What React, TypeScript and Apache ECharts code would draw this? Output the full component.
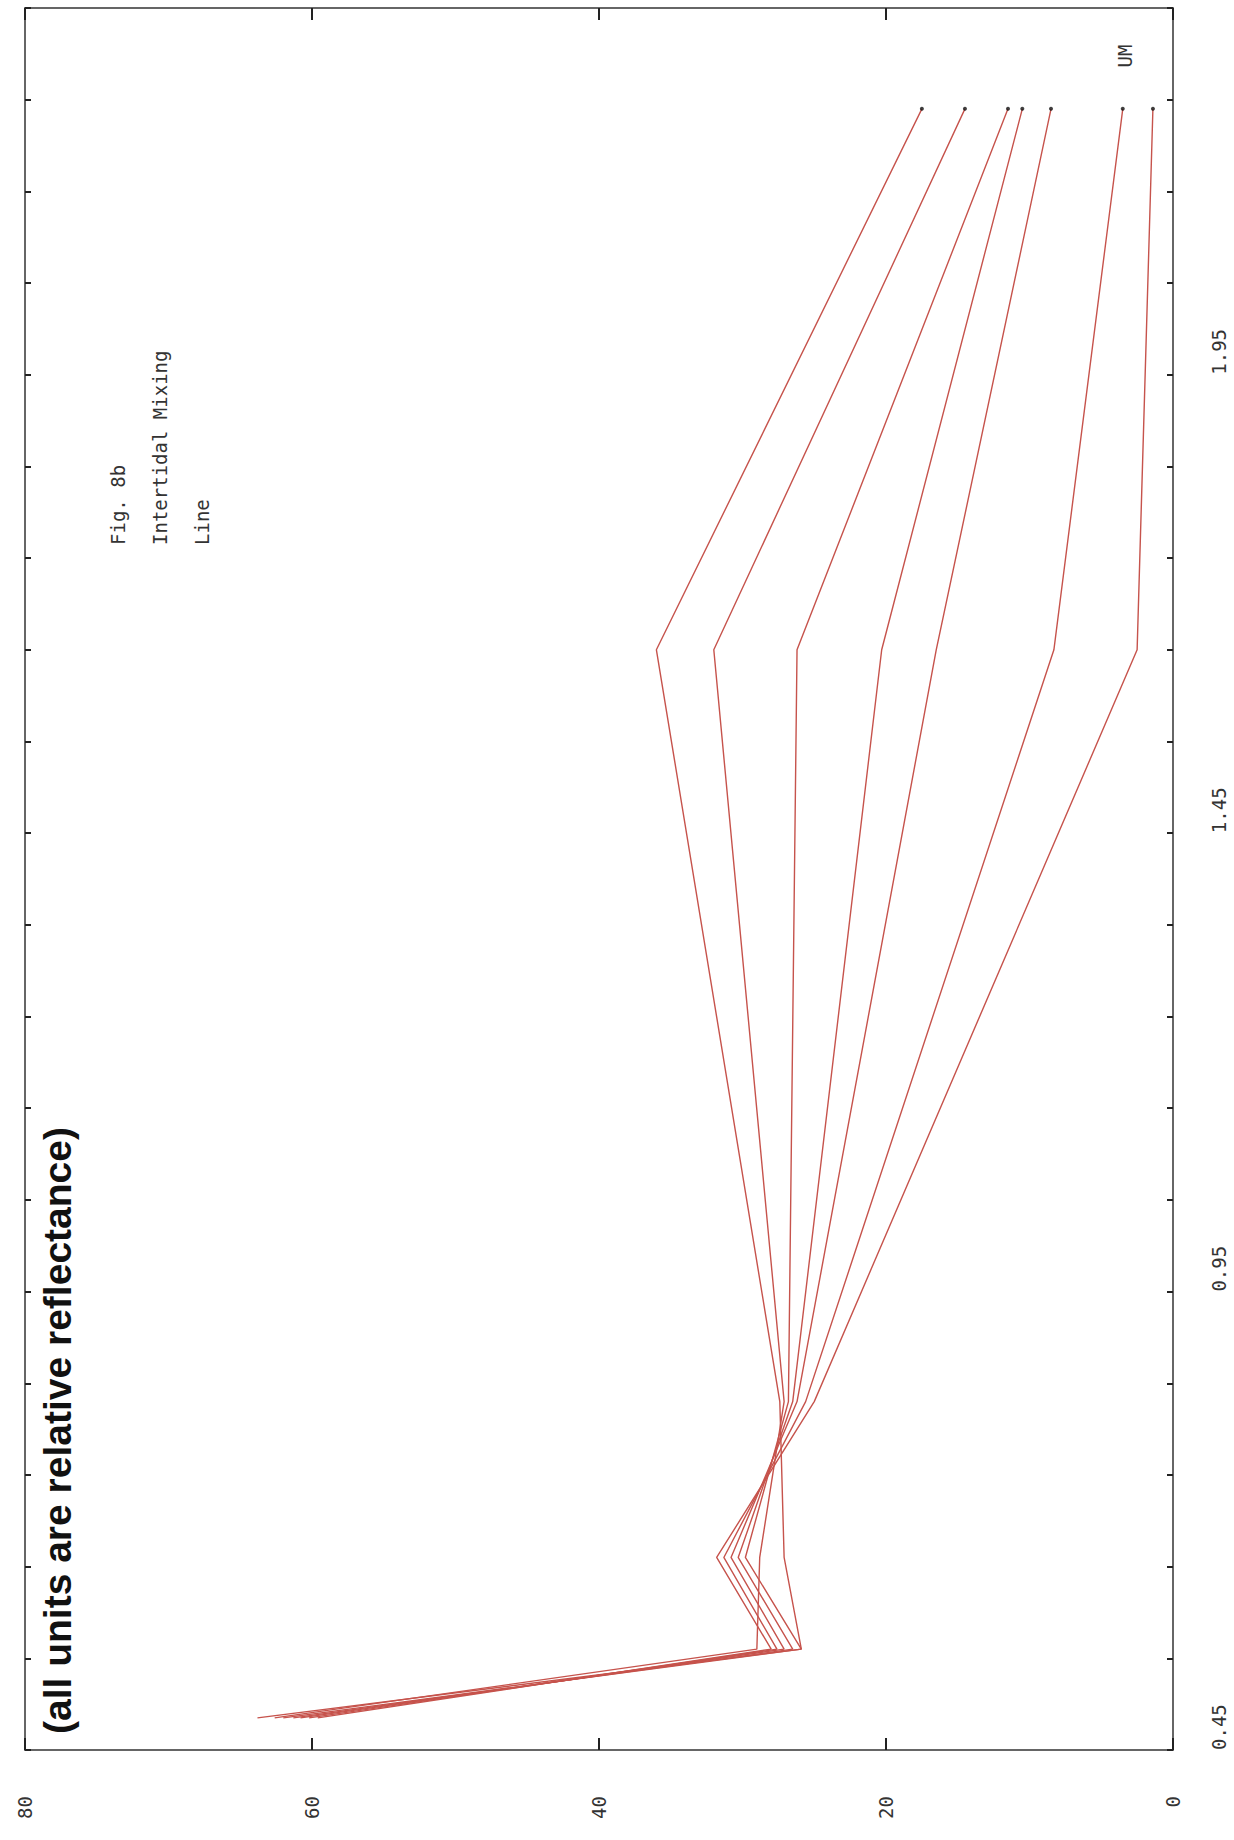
import React, { useEffect, useRef } from "react";
import * as echarts from "echarts";

// wavelength (µm) of each sampled band
const wavelengths = [0.485, 0.56, 0.66, 0.83, 1.65, 2.24];

// relative reflectance of each mixing line, one value per band
const line1 = [63.8, 25.9, 27.1, 27.4, 36.0, 17.5];
const line2 = [62.6, 29.0, 28.8, 27.1, 32.0, 14.5];
const line3 = [62.0, 25.9, 29.8, 26.8, 26.2, 11.5];
const line4 = [61.3, 26.5, 30.3, 26.5, 20.3, 10.5];
const line5 = [60.8, 27.1, 30.8, 26.2, 16.5, 8.5];
const line6 = [60.2, 27.6, 31.3, 25.6, 8.3, 3.5];
const line7 = [59.6, 28.0, 31.8, 25.0, 2.5, 1.4];
const lines = [line1, line2, line3, line4, line5, line6, line7];

// axis ticks
const wavelengthTicks = [
  0.45, 0.55, 0.65, 0.75, 0.85, 0.95, 1.05, 1.15, 1.25, 1.35, 1.45, 1.55, 1.65,
  1.75, 1.85, 1.95, 2.05, 2.15, 2.25, 2.35,
];
const wavelengthLabels = [0.45, 0.95, 1.45, 1.95];
const reflectanceMin = 0;
const reflectanceMax = 80;
const reflectanceStep = 20;

const titleLines = ["Fig. 8b", "Intertidal Mixing", "Line"];
const unitLabel = "UM";
const note = "(all units are relative reflectance)";

export default function App() {
  const ref = useRef<HTMLDivElement>(null);
  useEffect(() => {
    document.body.style.margin = "0";
    const chart = echarts.init(ref.current as HTMLDivElement, null, { renderer: "svg" });
    const mono = "'DejaVu Sans Mono', 'Liberation Mono', monospace";
    const axisColor = "#333";
    const lineColor = "#c6534c";

    const xBase = {
      type: "value",
      inverse: true,
      min: reflectanceMin,
      max: reflectanceMax,
      interval: reflectanceStep,
      splitLine: { show: false },
      axisLine: { show: true, onZero: false, lineStyle: { color: axisColor, width: 1.5 } },
      axisTick: { show: true, inside: true, length: 12, lineStyle: { color: "#222", width: 2 } },
    };
    const yBase = {
      type: "value",
      min: 0.45,
      max: 2.35,
      splitLine: { show: false },
      axisLine: { show: true, onZero: false, lineStyle: { color: axisColor, width: 1.5 } },
      axisTick: {
        show: true,
        inside: true,
        length: 6,
        customValues: wavelengthTicks,
        lineStyle: { color: "#222", width: 2 },
      },
    };

    const option: any = {
      animation: false,
      backgroundColor: "#ffffff",
      grid: { left: 25, right: 61, top: 8, bottom: 90, containLabel: false },
      xAxis: [
        {
          ...xBase,
          position: "bottom",
          axisLabel: {
            rotate: 90,
            margin: 46,
            fontFamily: mono,
            fontSize: 19,
            color: axisColor,
          },
        },
        {
          ...xBase,
          position: "top",
          axisLabel: { show: false },
        },
      ],
      yAxis: [
        {
          ...yBase,
          position: "right",
          axisLabel: {
            customValues: wavelengthLabels,
            formatter: (v: number) => v.toFixed(2),
            rotate: 90,
            align: "left",
            verticalAlign: "top",
            margin: 36,
            fontFamily: mono,
            fontSize: 19,
            color: axisColor,
          },
        },
        {
          ...yBase,
          position: "left",
          axisLabel: { show: false },
        },
      ],
      series: [
        ...lines.map((vals, k) => ({
          name: "line" + (k + 1),
          type: "line",
          xAxisIndex: 0,
          yAxisIndex: 0,
          data: wavelengths.map((w, i) => [vals[i], w]),
          symbol: "none",
          lineStyle: { color: lineColor, width: 1.4 },
          z: 2,
        })),
        {
          name: "ends",
          type: "scatter",
          xAxisIndex: 0,
          yAxisIndex: 0,
          data: lines.map((vals) => [vals[vals.length - 1], wavelengths[wavelengths.length - 1]]),
          symbol: "circle",
          symbolSize: 4,
          itemStyle: { color: "#111" },
          z: 3,
        },
      ],
      graphic: [
        {
          type: "text",
          x: 1125,
          y: 56,
          rotation: Math.PI / 2,
          style: {
            text: unitLabel,
            font: `19px ${mono}`,
            fill: axisColor,
            align: "center",
            verticalAlign: "middle",
          },
        },
        ...titleLines.map((t, i) => ({
          type: "text",
          x: 118 + i * 42,
          y: 545,
          rotation: Math.PI / 2,
          style: {
            text: t,
            font: `19px ${mono}`,
            fill: axisColor,
            align: "left",
            verticalAlign: "middle",
          },
        })),
        {
          type: "text",
          x: 57,
          y: 1734,
          rotation: Math.PI / 2,
          style: {
            text: note,
            font: "bold 39px 'Liberation Sans Narrow', 'Liberation Sans', Arial, sans-serif",
            fill: "#111",
            align: "left",
            verticalAlign: "middle",
          },
        },
      ],
    };
    chart.setOption(option);
    return () => chart.dispose();
  }, []);
  return <div ref={ref} style={{ width: 1234, height: 1840 }} />;
}
